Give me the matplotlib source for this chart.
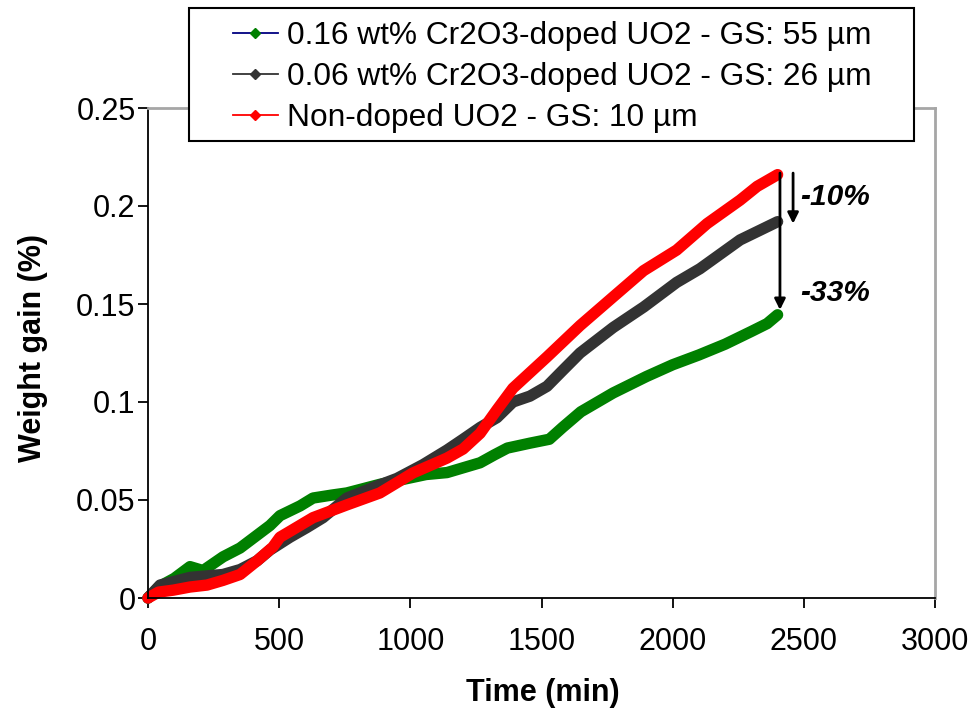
import matplotlib
matplotlib.use('Agg')
import matplotlib.pyplot as plt
from matplotlib.lines import Line2D
from matplotlib.patches import Rectangle
from matplotlib.ticker import FuncFormatter

plt.rcParams['font.family'] = ['Liberation Sans', 'DejaVu Sans']

# Données (temps en min, prise de masse en %)
t_green = [0, 45, 100, 160, 210, 286, 351, 465, 503, 580, 629, 700, 758, 884, 1060,
           1140, 1266, 1320, 1370, 1456, 1530, 1580, 1650, 1773, 1900, 2000, 2100,
           2200, 2300, 2360, 2400]
w_green = [0, 0.006, 0.010, 0.016, 0.014, 0.021, 0.0255, 0.037, 0.042, 0.047, 0.051,
           0.0525, 0.0536, 0.058, 0.063, 0.064, 0.069, 0.073, 0.0765, 0.079, 0.081,
           0.087, 0.095, 0.1046, 0.113, 0.119, 0.124, 0.1295, 0.136, 0.140, 0.1445]

t_grey = [0, 46, 160, 286, 351, 416, 465, 541, 606, 667, 758, 884, 949, 1048, 1140,
          1201, 1266, 1330, 1391, 1456, 1521, 1580, 1647, 1773, 1890, 2015, 2104, 2257,
          2400]
w_grey = [0, 0.0066, 0.0105, 0.012, 0.0145, 0.019, 0.0245, 0.031, 0.036, 0.041, 0.051,
          0.0577, 0.061, 0.068, 0.0755, 0.081, 0.087, 0.092, 0.100, 0.103, 0.108,
          0.116, 0.125, 0.138, 0.1485, 0.161, 0.168, 0.1827, 0.192]

t_red = [0, 40, 96, 160, 225, 286, 351, 416, 476, 503, 541, 629, 758, 884, 1010, 1140,
         1201, 1266, 1330, 1391, 1456, 1521, 1647, 1773, 1889, 2015, 2131, 2257, 2322,
         2400]
w_red = [0, 0.003, 0.004, 0.0056, 0.0066, 0.009, 0.012, 0.019, 0.026, 0.031, 0.034,
         0.041, 0.0475, 0.0536, 0.0638, 0.0714, 0.076, 0.084, 0.096, 0.107, 0.115,
         0.123, 0.139, 0.1536, 0.167, 0.1775, 0.191, 0.203, 0.21, 0.216]

labels = ["0.16 wt% Cr2O3-doped UO2 - GS: 55 µm",
          "0.06 wt% Cr2O3-doped UO2 - GS: 26 µm",
          "Non-doped UO2 - GS: 10 µm"]

fig = plt.figure(figsize=(9.7, 7.15), dpi=100)
ax = fig.add_axes([148 / 970, 1 - 598 / 715, 787 / 970, 490 / 715])

ax.plot(t_green, w_green, color='#008000', lw=8.2, solid_capstyle='round', clip_on=False)
ax.plot(t_grey, w_grey, color='#333333', lw=8.2, solid_capstyle='round', clip_on=False)
ax.plot(t_red, w_red, color='#ff0000', lw=8.2, solid_capstyle='round', clip_on=False)

ax.set_xlim(0, 3000)
ax.set_ylim(0, 0.25)
ax.set_xticks([0, 500, 1000, 1500, 2000, 2500, 3000])
ax.set_yticks([0, 0.05, 0.1, 0.15, 0.2, 0.25])
ax.yaxis.set_major_formatter(FuncFormatter(lambda v, p: f'{v:g}'))
ax.tick_params(direction='out', length=7, width=1.3, labelsize=22)
ax.tick_params(axis='x', pad=14)
ax.tick_params(axis='y', pad=2)

for s in ['left', 'bottom']:
    ax.spines[s].set_color('black')
    ax.spines[s].set_linewidth(1.3)
for s in ['top', 'right']:
    ax.spines[s].set_color('#a6a6a6')
    ax.spines[s].set_linewidth(2)

ax.set_xlabel('Time (min)', fontsize=22, fontweight='bold', va='center')
ax.set_ylabel('Weight gain (%)', fontsize=22, fontweight='bold', va='center')
ax.xaxis.set_label_coords(0.502, -0.194)
ax.yaxis.set_label_coords(-0.146, 0.51)

# flèches des écarts
arrow = dict(arrowstyle='-|>', lw=2, color='black', mutation_scale=16, shrinkA=0, shrinkB=0)
ax.annotate('', xy=(2409, 0.147), xytext=(2409, 0.2168), arrowprops=arrow)
ax.annotate('', xy=(2459, 0.191), xytext=(2459, 0.2168), arrowprops=arrow)
ax.text(2486, 0.2046, '-10%', fontsize=21.5, fontweight='bold', fontstyle='italic', va='center')
ax.text(2486, 0.1556, '-33%', fontsize=21.5, fontweight='bold', fontstyle='italic', va='center')

# légende
frame = Rectangle((189 / 970, 1 - 141 / 715), 725 / 970, 133 / 715, transform=fig.transFigure,
                  facecolor='white', edgecolor='black', lw=1.5, zorder=3)
fig.add_artist(frame)
handles = [
    Line2D([], [], color='#000080', lw=1.3, marker='D', markersize=5.5,
           markerfacecolor='#008000', markeredgecolor='#008000'),
    Line2D([], [], color='#333333', lw=1.3, marker='D', markersize=5.5,
           markerfacecolor='#333333', markeredgecolor='#333333'),
    Line2D([], [], color='#ff0000', lw=1.3, marker='D', markersize=5.5,
           markerfacecolor='#ff0000', markeredgecolor='#ff0000'),
]
leg = fig.legend(handles, labels, loc='upper left', bbox_to_anchor=(233 / 970, 1 - 21 / 715),
                 frameon=False, fontsize=22.8, handlelength=1.41, handletextpad=0.31,
                 labelspacing=0.35, borderpad=0, borderaxespad=0)
leg.set_zorder(4)

plt.savefig('out.png', dpi=100)
